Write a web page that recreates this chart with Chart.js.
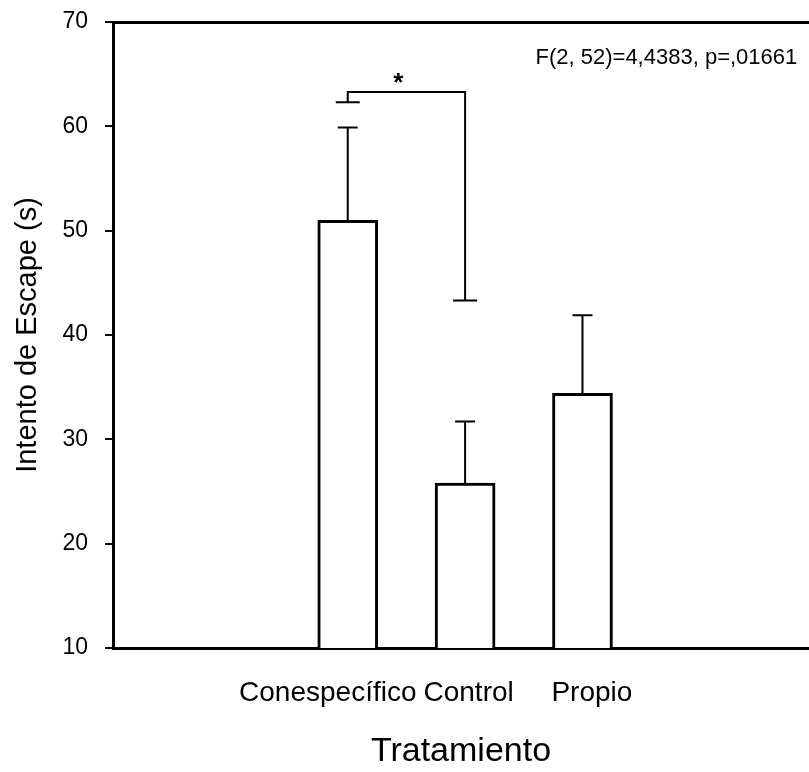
<!DOCTYPE html>
<html>
<head>
<meta charset="utf-8">
<script src="https://cdn.jsdelivr.net/npm/chart.js@4"></script>
<style>
  html, body { margin: 0; padding: 0; background: #fff; }
</style>
</head>
<body>
<canvas id="escapeChart" width="809" height="772"></canvas>
<script>
const categories = ['Conespecífico', 'Control', 'Propio'];
const barPositions = [0, 1, 2];
// tick label centres (Conespecífico sits a little left of its bar)
const labelPositions = [-0.17, 1.03, 2.08];
const means = [51.0, 25.8, 34.4];
const errorTops = [59.9, 31.7, 41.9];
const yTicks = [10, 20, 30, 40, 50, 60, 70];

// significance bracket Conespecífico vs Control
const bracketX = [0, 1];
const bracketLow = [62.3, 43.3];
const bracketTop = 63.3;
const starPos = [0.43, 64.6];
const statsText = 'F(2, 52)=4,4383, p=,01661';
const statsPos = [3.83, 66.6];

const FONT = "'Liberation Sans', Arial, sans-serif";

const extras = {
    id: 'extras',
    afterDatasetsDraw(chart) {
        const ctx = chart.ctx;
        const x = chart.scales.x;
        const y = chart.scales.y;
        ctx.save();
        ctx.strokeStyle = '#000';

        // upper error bars
        ctx.lineWidth = 2;
        barPositions.forEach((p, i) => {
            const px = x.getPixelForValue(p);
            const y0 = y.getPixelForValue(means[i]) + 2;
            const y1 = y.getPixelForValue(errorTops[i]);
            ctx.beginPath();
            ctx.moveTo(px, y0);
            ctx.lineTo(px, y1);
            ctx.moveTo(px - 10, y1);
            ctx.lineTo(px + 10, y1);
            ctx.stroke();
        });

        // bracket
        const xa = x.getPixelForValue(bracketX[0]);
        const xb = x.getPixelForValue(bracketX[1]);
        const yt = y.getPixelForValue(bracketTop);
        const ya = y.getPixelForValue(bracketLow[0]);
        const yb = y.getPixelForValue(bracketLow[1]);
        ctx.lineWidth = 2;
        ctx.beginPath();
        ctx.moveTo(xa, ya);
        ctx.lineTo(xa, yt);
        ctx.lineTo(xb, yt);
        ctx.lineTo(xb, yb);
        ctx.moveTo(xa - 12, ya);
        ctx.lineTo(xa + 12, ya);
        ctx.moveTo(xb - 12, yb);
        ctx.lineTo(xb + 12, yb);
        ctx.stroke();

        ctx.fillStyle = '#000';
        ctx.font = 'bold 26px ' + FONT;
        ctx.textAlign = 'center';
        ctx.textBaseline = 'middle';
        ctx.fillText('*', x.getPixelForValue(starPos[0]), y.getPixelForValue(starPos[1]) + 5);

        ctx.font = '22px ' + FONT;
        ctx.textAlign = 'right';
        ctx.fillText(statsText, x.getPixelForValue(statsPos[0]), y.getPixelForValue(statsPos[1]));
        ctx.restore();
    }
};

const config = {
    type: 'bar',
    data: {
        datasets: [{
            data: barPositions.map((p, i) => ({ x: p, y: means[i] })),
            backgroundColor: '#fff',
            borderColor: '#000',
            borderWidth: 3,
            borderSkipped: 'start',
            barThickness: 60
        }]
    },
    options: {
        responsive: false,
        animation: false,
        layout: { padding: { top: 22, left: 0, right: 0, bottom: 0 } },
        plugins: {
            legend: { display: false },
            tooltip: { enabled: false }
        },
        scales: {
            x: {
                type: 'linear',
                offset: false,
                min: -2,
                max: 3.93,
                grid: { display: false, drawTicks: false, offset: false },
                border: { display: true, color: '#000', width: 3 },
                afterBuildTicks: (scale) => {
                    scale.ticks = labelPositions.map(v => ({ value: v }));
                },
                afterFit: (scale) => { scale.height = 124; },
                ticks: {
                    autoSkip: false,
                    maxRotation: 0,
                    padding: 28,
                    color: '#000',
                    font: { family: FONT, size: 28 },
                    callback: (value, index) => categories[index]
                },
                title: {
                    display: true,
                    text: 'Tratamiento',
                    color: '#000',
                    font: { family: FONT, size: 34 },
                    padding: { top: 0, bottom: 0 }
                }
            },
            x2: {
                type: 'linear',
                position: 'top',
                offset: false,
                min: -2,
                max: 3.93,
                grid: { display: false, drawTicks: false },
                ticks: { display: false },
                border: { display: true, color: '#000', width: 3 },
                afterFit: (scale) => { scale.height = 0; }
            },
            y: {
                min: 10,
                max: 70,
                afterBuildTicks: (scale) => {
                    scale.ticks = yTicks.map(v => ({ value: v }));
                },
                afterFit: (scale) => {
                    scale.width = 113;
                    scale.paddingTop = 0;
                    scale.paddingBottom = 0;
                },
                grid: {
                    drawOnChartArea: false,
                    drawTicks: true,
                    tickLength: 8,
                    color: '#000',
                    lineWidth: 2
                },
                border: { display: true, color: '#000', width: 3 },
                ticks: {
                    padding: 17,
                    color: '#000',
                    font: { family: FONT, size: 23 }
                },
                title: {
                    display: true,
                    text: 'Intento de Escape (s)',
                    color: '#000',
                    font: { family: FONT, size: 29 },
                    padding: { top: 11, bottom: 4 }
                }
            }
        }
    },
    plugins: [extras]
};

const escapeChart = new Chart(document.getElementById('escapeChart'), config);
</script>
</body>
</html>
